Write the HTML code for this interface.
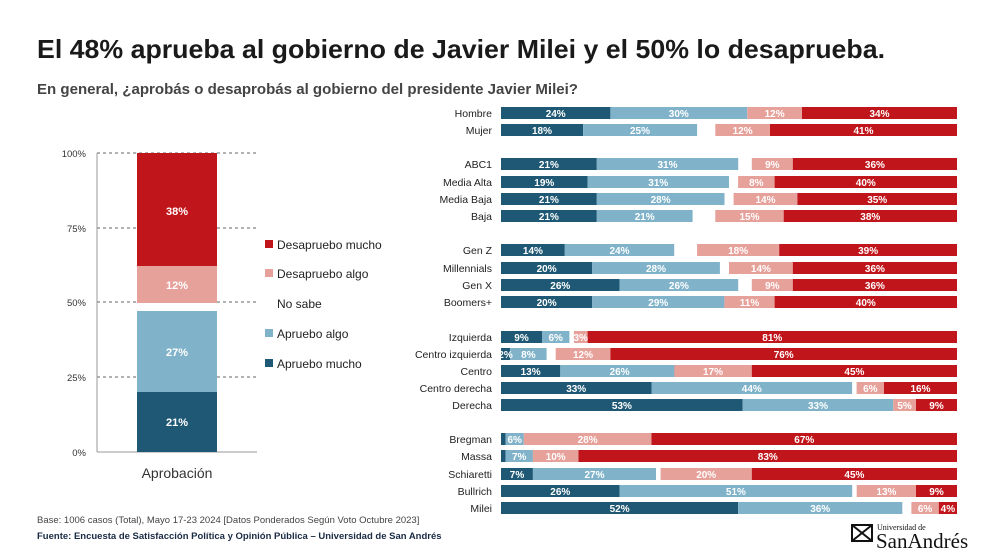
<!DOCTYPE html>
<html><head><meta charset="utf-8"><style>
html,body{margin:0;padding:0;background:#fff;}
svg{display:block;font-family:"Liberation Sans",sans-serif;}
.l{font-size:10.5px;fill:#222;text-anchor:end;}
.v{font-size:10px;fill:#fff;text-anchor:middle;font-weight:bold;}
.D{fill:#1f5874}.L{fill:#80b3c9}.P{fill:#e7a19b}.R{fill:#c0161b}
</style></head><body>
<svg width="992" height="552" viewBox="0 0 992 552">
<text x="37" y="58" font-size="26" font-weight="bold" fill="#1a1a1a" textLength="848" lengthAdjust="spacingAndGlyphs">El 48% aprueba al gobierno de Javier Milei y el 50% lo desaprueba.</text>
<text x="37" y="94" font-size="15" font-weight="bold" fill="#444" textLength="541" lengthAdjust="spacingAndGlyphs">En general, ¿aprobás o desaprobás al gobierno del presidente Javier Milei?</text>

<!-- left chart -->
<g stroke="#666" stroke-dasharray="3,3" stroke-width="1">
<line x1="97" y1="153" x2="257" y2="153"/><line x1="97" y1="228" x2="257" y2="228"/><line x1="97" y1="302" x2="257" y2="302"/><line x1="97" y1="377" x2="257" y2="377"/>
</g>
<line x1="97" y1="153" x2="97" y2="452" stroke="#999"/>
<line x1="97" y1="452" x2="257" y2="452" stroke="#999"/>
<g font-size="9.5" fill="#333" text-anchor="end">
<text x="86" y="157">100%</text><text x="86" y="232">75%</text><text x="86" y="306">50%</text><text x="86" y="381">25%</text><text x="86" y="456">0%</text>
</g>
<rect class="R" x="137" y="153" width="80" height="113"/>
<rect class="P" x="137" y="266" width="80" height="37"/>
<rect class="L" x="137" y="311" width="80" height="81"/>
<rect class="D" x="137" y="392" width="80" height="60"/>
<g class="v" style="font-size:11px"><text x="177" y="215">38%</text><text x="177" y="289">12%</text><text x="177" y="356">27%</text><text x="177" y="426">21%</text></g>
<text x="177" y="478" font-size="14" fill="#333" text-anchor="middle">Aprobación</text>
<g font-size="12" fill="#222">
<rect class="R" x="265" y="240" width="8" height="8"/><text x="277" y="249">Desapruebo mucho</text>
<rect class="P" x="265" y="269" width="8" height="8"/><text x="277" y="278">Desapruebo algo</text>
<text x="277" y="308">No sabe</text>
<rect class="L" x="265" y="329" width="8" height="8"/><text x="277" y="338">Apruebo algo</text>
<rect class="D" x="265" y="359" width="8" height="8"/><text x="277" y="368">Apruebo mucho</text>
</g>

<!-- right chart rows -->
<g transform="translate(0,113)"><text class="l" x="492" y="4">Hombre</text>
<rect class="D" x="501" y="-6" width="109.4" height="12"/><rect class="L" x="610.4" y="-6" width="136.8" height="12"/><rect class="P" x="747.3" y="-6" width="54.7" height="12"/><rect class="R" x="802" y="-6" width="155" height="12"/>
<text class="v" x="555.7" y="4">24%</text><text class="v" x="678.8" y="4">30%</text><text class="v" x="774.6" y="4">12%</text><text class="v" x="879.5" y="4">34%</text></g>
<g transform="translate(0,130)"><text class="l" x="492" y="4">Mujer</text>
<rect class="D" x="501" y="-6" width="82.1" height="12"/><rect class="L" x="583.1" y="-6" width="114" height="12"/><rect class="P" x="715.3" y="-6" width="54.7" height="12"/><rect class="R" x="770" y="-6" width="187" height="12"/>
<text class="v" x="542" y="4">18%</text><text class="v" x="640" y="4">25%</text><text class="v" x="742.6" y="4">12%</text><text class="v" x="863.5" y="4">41%</text></g>
<g transform="translate(0,164)"><text class="l" x="492" y="4">ABC1</text>
<rect class="D" x="501" y="-6" width="95.8" height="12"/><rect class="L" x="596.8" y="-6" width="141.4" height="12"/><rect class="P" x="751.8" y="-6" width="41" height="12"/><rect class="R" x="792.8" y="-6" width="164.2" height="12"/>
<text class="v" x="548.9" y="4">21%</text><text class="v" x="667.5" y="4">31%</text><text class="v" x="772.3" y="4">9%</text><text class="v" x="874.9" y="4">36%</text></g>
<g transform="translate(0,182)"><text class="l" x="492" y="4">Media Alta</text>
<rect class="D" x="501" y="-6" width="86.6" height="12"/><rect class="L" x="587.6" y="-6" width="141.4" height="12"/><rect class="P" x="738.1" y="-6" width="36.5" height="12"/><rect class="R" x="774.6" y="-6" width="182.4" height="12"/>
<text class="v" x="544.3" y="4">19%</text><text class="v" x="658.3" y="4">31%</text><text class="v" x="756.3" y="4">8%</text><text class="v" x="865.8" y="4">40%</text></g>
<g transform="translate(0,199)"><text class="l" x="492" y="4">Media Baja</text>
<rect class="D" x="501" y="-6" width="95.8" height="12"/><rect class="L" x="596.8" y="-6" width="127.7" height="12"/><rect class="P" x="733.6" y="-6" width="63.8" height="12"/><rect class="R" x="797.4" y="-6" width="159.6" height="12"/>
<text class="v" x="548.9" y="4">21%</text><text class="v" x="660.6" y="4">28%</text><text class="v" x="765.5" y="4">14%</text><text class="v" x="877.2" y="4">35%</text></g>
<g transform="translate(0,216)"><text class="l" x="492" y="4">Baja</text>
<rect class="D" x="501" y="-6" width="95.8" height="12"/><rect class="L" x="596.8" y="-6" width="95.8" height="12"/><rect class="P" x="715.3" y="-6" width="68.4" height="12"/><rect class="R" x="783.7" y="-6" width="173.3" height="12"/>
<text class="v" x="548.9" y="4">21%</text><text class="v" x="644.7" y="4">21%</text><text class="v" x="749.5" y="4">15%</text><text class="v" x="870.3" y="4">38%</text></g>
<g transform="translate(0,250)"><text class="l" x="492" y="4">Gen Z</text>
<rect class="D" x="501" y="-6" width="63.8" height="12"/><rect class="L" x="564.8" y="-6" width="109.4" height="12"/><rect class="P" x="697.1" y="-6" width="82.1" height="12"/><rect class="R" x="779.2" y="-6" width="177.8" height="12"/>
<text class="v" x="532.9" y="4">14%</text><text class="v" x="619.5" y="4">24%</text><text class="v" x="738.1" y="4">18%</text><text class="v" x="868.1" y="4">39%</text></g>
<g transform="translate(0,268)"><text class="l" x="492" y="4">Millennials</text>
<rect class="D" x="501" y="-6" width="91.2" height="12"/><rect class="L" x="592.2" y="-6" width="127.7" height="12"/><rect class="P" x="729" y="-6" width="63.8" height="12"/><rect class="R" x="792.8" y="-6" width="164.2" height="12"/>
<text class="v" x="546.6" y="4">20%</text><text class="v" x="656" y="4">28%</text><text class="v" x="760.9" y="4">14%</text><text class="v" x="874.9" y="4">36%</text></g>
<g transform="translate(0,285)"><text class="l" x="492" y="4">Gen X</text>
<rect class="D" x="501" y="-6" width="118.6" height="12"/><rect class="L" x="619.6" y="-6" width="118.6" height="12"/><rect class="P" x="751.8" y="-6" width="41" height="12"/><rect class="R" x="792.8" y="-6" width="164.2" height="12"/>
<text class="v" x="560.3" y="4">26%</text><text class="v" x="678.9" y="4">26%</text><text class="v" x="772.3" y="4">9%</text><text class="v" x="874.9" y="4">36%</text></g>
<g transform="translate(0,302)"><text class="l" x="492" y="4">Boomers+</text>
<rect class="D" x="501" y="-6" width="91.2" height="12"/><rect class="L" x="592.2" y="-6" width="132.2" height="12"/><rect class="P" x="724.4" y="-6" width="50.2" height="12"/><rect class="R" x="774.6" y="-6" width="182.4" height="12"/>
<text class="v" x="546.6" y="4">20%</text><text class="v" x="658.3" y="4">29%</text><text class="v" x="749.5" y="4">11%</text><text class="v" x="865.8" y="4">40%</text></g>
<g transform="translate(0,337)"><text class="l" x="492" y="4">Izquierda</text>
<rect class="D" x="501" y="-6" width="41" height="12"/><rect class="L" x="542" y="-6" width="27.4" height="12"/><rect class="P" x="573.9" y="-6" width="13.7" height="12"/><rect class="R" x="587.6" y="-6" width="369.4" height="12"/>
<text class="v" x="521.5" y="4">9%</text><text class="v" x="555.7" y="4">6%</text><text class="v" x="580.7" y="4">3%</text><text class="v" x="772.3" y="4">81%</text></g>
<g transform="translate(0,354)"><text class="l" x="492" y="4">Centro izquierda</text>
<rect class="D" x="501" y="-6" width="9.1" height="12"/><rect class="L" x="510.1" y="-6" width="36.5" height="12"/><rect class="P" x="555.7" y="-6" width="54.7" height="12"/><rect class="R" x="610.4" y="-6" width="346.6" height="12"/>
<text class="v" x="505.5" y="4">2%</text><text class="v" x="528.4" y="4">8%</text><text class="v" x="583" y="4">12%</text><text class="v" x="783.7" y="4">76%</text></g>
<g transform="translate(0,371)"><text class="l" x="492" y="4">Centro</text>
<rect class="D" x="501" y="-6" width="59.3" height="12"/><rect class="L" x="560.3" y="-6" width="118.6" height="12"/><rect class="P" x="674.3" y="-6" width="77.5" height="12"/><rect class="R" x="751.8" y="-6" width="205.2" height="12"/>
<text class="v" x="530.6" y="4">13%</text><text class="v" x="619.6" y="4">26%</text><text class="v" x="713" y="4">17%</text><text class="v" x="854.4" y="4">45%</text></g>
<g transform="translate(0,388)"><text class="l" x="492" y="4">Centro derecha</text>
<rect class="D" x="501" y="-6" width="150.5" height="12"/><rect class="L" x="651.5" y="-6" width="200.6" height="12"/><rect class="P" x="856.6" y="-6" width="27.4" height="12"/><rect class="R" x="884" y="-6" width="73" height="12"/>
<text class="v" x="576.2" y="4">33%</text><text class="v" x="751.8" y="4">44%</text><text class="v" x="870.3" y="4">6%</text><text class="v" x="920.5" y="4">16%</text></g>
<g transform="translate(0,405)"><text class="l" x="492" y="4">Derecha</text>
<rect class="D" x="501" y="-6" width="241.7" height="12"/><rect class="L" x="742.7" y="-6" width="150.5" height="12"/><rect class="P" x="893.2" y="-6" width="22.8" height="12"/><rect class="R" x="916" y="-6" width="41" height="12"/>
<text class="v" x="621.9" y="4">53%</text><text class="v" x="818" y="4">33%</text><text class="v" x="904.6" y="4">5%</text><text class="v" x="936.5" y="4">9%</text></g>
<g transform="translate(0,439)"><text class="l" x="492" y="4">Bregman</text>
<rect class="D" x="501" y="-6" width="4.6" height="12"/><rect class="L" x="505.6" y="-6" width="18.2" height="12"/><rect class="P" x="523.8" y="-6" width="127.7" height="12"/><rect class="R" x="651.5" y="-6" width="305.5" height="12"/>
<text class="v" x="514.7" y="4">6%</text><text class="v" x="587.6" y="4">28%</text><text class="v" x="804.3" y="4">67%</text></g>
<g transform="translate(0,456)"><text class="l" x="492" y="4">Massa</text>
<rect class="D" x="501" y="-6" width="4.6" height="12"/><rect class="L" x="505.6" y="-6" width="27.3" height="12"/><rect class="P" x="532.9" y="-6" width="45.6" height="12"/><rect class="R" x="578.5" y="-6" width="378.5" height="12"/>
<text class="v" x="519.2" y="4">7%</text><text class="v" x="555.7" y="4">10%</text><text class="v" x="767.8" y="4">83%</text></g>
<g transform="translate(0,474)"><text class="l" x="492" y="4">Schiaretti</text>
<rect class="D" x="501" y="-6" width="31.9" height="12"/><rect class="L" x="532.9" y="-6" width="123.1" height="12"/><rect class="P" x="660.6" y="-6" width="91.2" height="12"/><rect class="R" x="751.8" y="-6" width="205.2" height="12"/>
<text class="v" x="517" y="4">7%</text><text class="v" x="594.5" y="4">27%</text><text class="v" x="706.2" y="4">20%</text><text class="v" x="854.4" y="4">45%</text></g>
<g transform="translate(0,491)"><text class="l" x="492" y="4">Bullrich</text>
<rect class="D" x="501" y="-6" width="118.6" height="12"/><rect class="L" x="619.6" y="-6" width="232.6" height="12"/><rect class="P" x="856.7" y="-6" width="59.3" height="12"/><rect class="R" x="916" y="-6" width="41" height="12"/>
<text class="v" x="560.3" y="4">26%</text><text class="v" x="735.9" y="4">51%</text><text class="v" x="886.4" y="4">13%</text><text class="v" x="936.5" y="4">9%</text></g>
<g transform="translate(0,508)"><text class="l" x="492" y="4">Milei</text>
<rect class="D" x="501" y="-6" width="237.1" height="12"/><rect class="L" x="738.1" y="-6" width="164.2" height="12"/><rect class="P" x="911.4" y="-6" width="27.4" height="12"/><rect class="R" x="938.8" y="-6" width="18.2" height="12"/>
<text class="v" x="619.6" y="4">52%</text><text class="v" x="820.2" y="4">36%</text><text class="v" x="925.1" y="4">6%</text><text class="v" x="947.9" y="4">4%</text></g>

<text x="37" y="523" font-size="9.5" fill="#444">Base: 1006 casos (Total), Mayo 17-23 2024 [Datos Ponderados Según Voto Octubre 2023]</text>
<text x="37" y="539" font-size="9.5" font-weight="bold" fill="#1a2a44">Fuente: Encuesta de Satisfacción Política y Opinión Pública – Universidad de San Andrés</text>

<g fill="#111">
<rect x="852" y="525" width="20" height="16" fill="none" stroke="#111" stroke-width="2"/>
<line x1="852" y1="525" x2="872" y2="541" stroke="#111" stroke-width="2"/><line x1="872" y1="525" x2="852" y2="541" stroke="#111" stroke-width="2"/>
<text x="877" y="530" font-family="Liberation Serif,serif" font-size="8">Universidad de</text>
<text x="876" y="548" font-family="Liberation Serif,serif" font-size="21">SanAndrés</text>
</g>
</svg>
</body></html>
